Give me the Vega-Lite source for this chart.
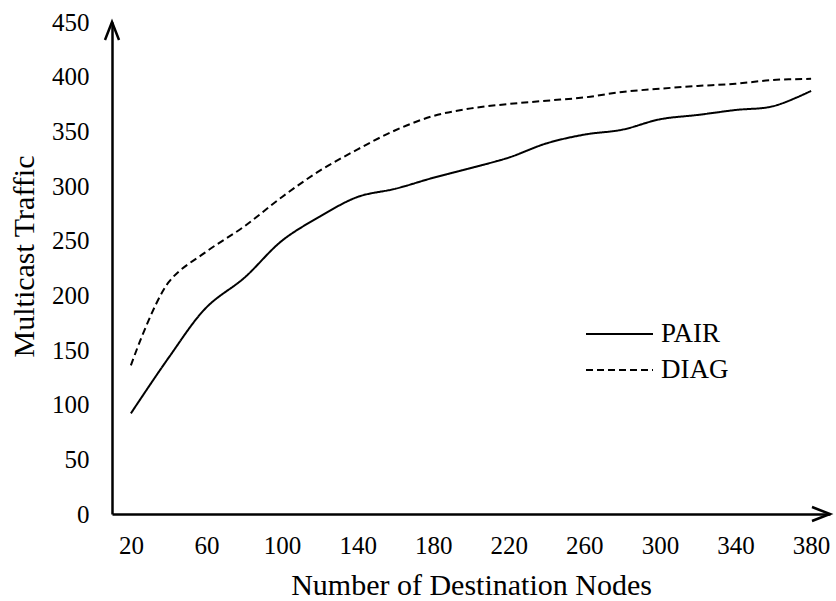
{
  "$schema": "https://vega.github.io/schema/vega-lite/v6.json",
  "autosize": {"type": "none"},
  "padding": {"left": 112, "top": 22, "right": 6, "bottom": 87},
  "width": 718,
  "height": 492,
  "config": {
    "view": {"stroke": null},
    "font": "Liberation Serif",
    "axis": {
      "labelFont": "Liberation Serif",
      "titleFont": "Liberation Serif",
      "labelColor": "#000000",
      "titleColor": "#000000",
      "titleFontWeight": "normal",
      "domainColor": "#000000",
      "domainWidth": 2.5,
      "ticks": false,
      "tickSize": 0,
      "grid": false
    },
    "legend": {
      "labelFont": "Liberation Serif",
      "labelColor": "#000000"
    }
  },
  "layer": [
    {
      "data": {
        "values": [
          {"x": 20, "y": 92, "series": "PAIR"},
          {"x": 40, "y": 143, "series": "PAIR"},
          {"x": 60, "y": 189, "series": "PAIR"},
          {"x": 80, "y": 216, "series": "PAIR"},
          {"x": 100, "y": 250, "series": "PAIR"},
          {"x": 120, "y": 272, "series": "PAIR"},
          {"x": 140, "y": 290, "series": "PAIR"},
          {"x": 160, "y": 297.5, "series": "PAIR"},
          {"x": 180, "y": 307.5, "series": "PAIR"},
          {"x": 200, "y": 316.5, "series": "PAIR"},
          {"x": 220, "y": 326, "series": "PAIR"},
          {"x": 240, "y": 339, "series": "PAIR"},
          {"x": 260, "y": 347, "series": "PAIR"},
          {"x": 280, "y": 351.5, "series": "PAIR"},
          {"x": 300, "y": 361, "series": "PAIR"},
          {"x": 320, "y": 365, "series": "PAIR"},
          {"x": 340, "y": 369.5, "series": "PAIR"},
          {"x": 360, "y": 373, "series": "PAIR"},
          {"x": 380, "y": 387, "series": "PAIR"},
          {"x": 20, "y": 136, "series": "DIAG"},
          {"x": 40, "y": 212, "series": "DIAG"},
          {"x": 60, "y": 240, "series": "DIAG"},
          {"x": 80, "y": 263, "series": "DIAG"},
          {"x": 100, "y": 290, "series": "DIAG"},
          {"x": 120, "y": 314, "series": "DIAG"},
          {"x": 140, "y": 333.5, "series": "DIAG"},
          {"x": 160, "y": 351, "series": "DIAG"},
          {"x": 180, "y": 364, "series": "DIAG"},
          {"x": 200, "y": 371, "series": "DIAG"},
          {"x": 220, "y": 375, "series": "DIAG"},
          {"x": 240, "y": 378, "series": "DIAG"},
          {"x": 260, "y": 381, "series": "DIAG"},
          {"x": 280, "y": 386, "series": "DIAG"},
          {"x": 300, "y": 389, "series": "DIAG"},
          {"x": 320, "y": 391.5, "series": "DIAG"},
          {"x": 340, "y": 393.5, "series": "DIAG"},
          {"x": 360, "y": 397, "series": "DIAG"},
          {"x": 380, "y": 398, "series": "DIAG"}
        ]
      },
      "mark": {"type": "line", "interpolate": "catmull-rom", "color": "#000000", "strokeWidth": 2},
      "encoding": {
        "x": {
          "field": "x",
          "type": "quantitative",
          "scale": {"domain": [10, 390], "nice": false, "zero": false},
          "axis": {
            "values": [20, 60, 100, 140, 180, 220, 260, 300, 340, 380],
            "title": "Number of Destination Nodes",
            "labelFontSize": 25,
            "labelBaseline": "alphabetic",
            "labelPadding": 39,
            "titleFontSize": 30,
            "titleBaseline": "alphabetic",
            "titleY": 80
          }
        },
        "y": {
          "field": "y",
          "type": "quantitative",
          "scale": {"domain": [0, 450], "nice": false},
          "axis": {
            "values": [0, 50, 100, 150, 200, 250, 300, 350, 400, 450],
            "title": "Multicast Traffic",
            "labelFontSize": 25,
            "labelPadding": 23,
            "labelBaseline": "middle",
            "titleFontSize": 30,
            "titleBaseline": "alphabetic",
            "titleAlign": "center",
            "titleX": -79,
            "titleY": 234
          }
        },
        "strokeDash": {
          "field": "series",
          "type": "nominal",
          "scale": {"domain": ["PAIR", "DIAG"], "range": [[1, 0], [7, 4]]},
          "legend": {
            "title": null,
            "orient": "none",
            "legendX": 473,
            "legendY": 295,
            "padding": 0,
            "symbolType": "stroke",
            "symbolSize": 4489,
            "symbolStrokeWidth": 2,
            "symbolStrokeColor": "#000000",
            "clipHeight": 34,
            "rowPadding": 2,
            "labelFontSize": 27,
            "labelOffset": 7
          }
        }
      }
    },
    {
      "data": {"values": [{"x": 10, "y": 450}]},
      "mark": {"type": "point", "shape": "M -0.78 2 L 0 0 L 0.78 2", "size": 324, "filled": false, "stroke": "#000000", "strokeWidth": 2.5, "opacity": 1},
      "encoding": {
        "x": {"field": "x", "type": "quantitative"},
        "y": {"field": "y", "type": "quantitative"}
      }
    },
    {
      "data": {"values": [{"x": 390, "y": 0}]},
      "mark": {"type": "point", "shape": "M -2 -0.78 L 0 0 L -2 0.78", "size": 324, "filled": false, "stroke": "#000000", "strokeWidth": 2.5, "opacity": 1},
      "encoding": {
        "x": {"field": "x", "type": "quantitative"},
        "y": {"field": "y", "type": "quantitative"}
      }
    }
  ]
}
